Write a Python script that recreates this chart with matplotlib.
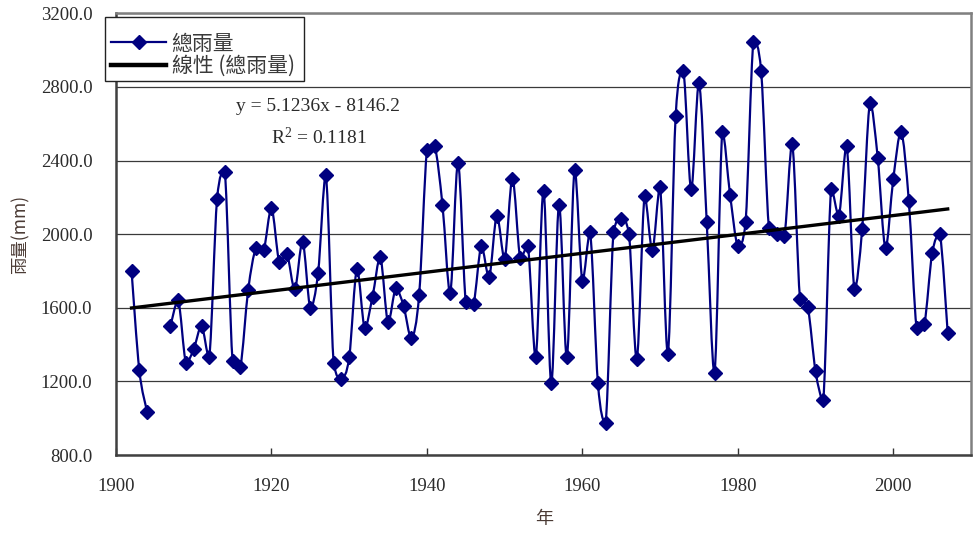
import matplotlib
matplotlib.use("Agg")
import matplotlib.pyplot as plt
import numpy as np
from matplotlib.path import Path
from matplotlib.patches import PathPatch, Rectangle
from matplotlib.lines import Line2D

# ---------------- data ----------------
years = list(range(1902, 2008))
rainfall = [
    1800, 1260, 1035, None, None, 1500, 1640, 1300, 1375, 1500,   # 1902-1911
    1330, 2190, 2340, 1310, 1280, 1695, 1925, 1915, 2140, 1850,   # 1912-1921
    1890, 1700, 1960, 1600, 1790, 2320, 1300, 1215, 1330, 1810,   # 1922-1931
    1490, 1660, 1875, 1520, 1705, 1610, 1435, 1670, 2455, 2480,   # 1932-1941
    2160, 1680, 2385, 1630, 1620, 1935, 1765, 2100, 1865, 2300,   # 1942-1951
    1870, 1935, 1330, 2235, 1190, 2160, 1330, 2350, 1745, 2010,   # 1952-1961
    1190, 975, 2010, 2085, 2000, 1320, 2205, 1915, 2255, 1350,    # 1962-1971
    2640, 2885, 2245, 2820, 2065, 1245, 2555, 2215, 1935, 2065,   # 1972-1981
    3045, 2885, 2035, 2000, 1990, 2490, 1650, 1605, 1255, 1100,   # 1982-1991
    2245, 2100, 2480, 1700, 2030, 2715, 2415, 1925, 2300, 2555,   # 1992-2001
    2180, 1490, 1510, 1895, 2000, 1465,                           # 2002-2007
]
trend_slope = 5.1236
trend_intercept = -8146.2
r_squared = 0.1181
series_label = "總雨量"
trend_label = "線性 (總雨量)"
x_ticks = [1900, 1920, 1940, 1960, 1980, 2000]
y_ticks = [800, 1200, 1600, 2000, 2400, 2800, 3200]
x_label = "年"
y_label = "雨量(mm)"

# ---------------- styling ----------------
plt.rcParams['mathtext.fontset'] = 'custom'
plt.rcParams['mathtext.rm'] = 'Liberation Serif'
plt.rcParams['mathtext.it'] = 'Liberation Serif:italic'

W, H = 976, 534
fig = plt.figure(figsize=(W / 100, H / 100), dpi=100)
ax = fig.add_axes([116 / W, 1 - 455 / H, (971 - 116) / W, (455 - 13.3) / H])

navy = '#000080'
text_col = '#2b2b2b'
serif = ['Liberation Serif', 'DejaVu Serif']
cjk = ['Noto Sans CJK TC', 'DejaVu Sans']

yrs = np.array(years, dtype=float)
vals = np.array([np.nan if v is None else v for v in rainfall], dtype=float)

# smoothed (Excel-style) line, drawn as Bezier segments through the data points
def smooth_path(xs, ys):
    pts = np.column_stack([xs, ys])
    n = len(pts)
    verts = [tuple(pts[0])]
    codes = [Path.MOVETO]
    for i in range(n - 1):
        p0 = pts[max(i - 1, 0)]
        p1 = pts[i]
        p2 = pts[i + 1]
        p3 = pts[min(i + 2, n - 1)]
        c1 = p1 + (p2 - p0) / 6.0
        c2 = p2 - (p3 - p1) / 6.0
        lo, hi = min(p1[1], p2[1]), max(p1[1], p2[1])
        c1[1] = min(max(c1[1], lo), hi)
        c2[1] = min(max(c2[1], lo), hi)
        verts += [tuple(c1), tuple(c2), tuple(p2)]
        codes += [Path.CURVE4] * 3
    return Path(verts, codes)

valid = ~np.isnan(vals)
runs = []
cur = []
for i in range(len(yrs)):
    if valid[i]:
        cur.append(i)
    else:
        if cur:
            runs.append(cur)
        cur = []
if cur:
    runs.append(cur)
for r in runs:
    if len(r) > 1:
        p = smooth_path(yrs[r], vals[r])
        ax.add_patch(PathPatch(p, facecolor='none', edgecolor=navy, lw=1.6, zorder=3))

ax.plot(yrs[valid], vals[valid], linestyle='none', marker='D', ms=7,
        color=navy, mec=navy, zorder=4)

# linear trend
tx = np.array([yrs[valid].min(), yrs[valid].max()])
ax.plot(tx, trend_slope * tx + trend_intercept, color='black', lw=2.4, zorder=5)

# axes
ax.set_xlim(1900, 2010)
ax.set_ylim(800, 3200)
ax.set_xticks(x_ticks)
ax.set_yticks(y_ticks)
ax.set_yticklabels([f"{v:.1f}" for v in y_ticks])
ax.tick_params(axis='x', direction='in', length=5, width=1, color='#333333',
               pad=16.5, labelsize=13.5, labelcolor=text_col)
ax.tick_params(axis='y', length=0, pad=17, labelsize=13.5, labelcolor=text_col)
for lab in ax.get_xticklabels() + ax.get_yticklabels():
    lab.set_family(serif)
ax.yaxis.grid(True, color='#3a3a3a', lw=0.9, zorder=0)
ax.set_axisbelow(True)
for s in ['top', 'right']:
    ax.spines[s].set_color('#808080')
    ax.spines[s].set_linewidth(1.8)
for s in ['left', 'bottom']:
    ax.spines[s].set_color('#404040')
    ax.spines[s].set_linewidth(1.8)

# equation text
ax.text(318 / W, 1 - 107 / H, f"y = {trend_slope:.4f}x - {abs(trend_intercept):.1f}",
        transform=fig.transFigure, ha='center', va='center', fontsize=14,
        family=serif, color=text_col)
ax.text(319 / W, 1 - 137 / H, f"R$^{{2}}$ = {r_squared:.4f}",
        transform=fig.transFigure, ha='center', va='center', fontsize=14,
        family=serif, color=text_col)

# axis labels
fig.text(20 / W, 1 - 234 / H, y_label, rotation=90, ha='center', va='center',
         fontsize=12.5, family=cjk, color='#4a3a34')
fig.text(544 / W, 1 - 519 / H, x_label, ha='center', va='center',
         fontsize=13, family=cjk, color='#4a3a34')

# legend (frame drawn separately)
ax.add_patch(Rectangle((105 / W, 1 - 81 / H), (304 - 105) / W, (81 - 17) / H,
                       transform=fig.transFigure, facecolor='white', clip_on=False,
                       edgecolor='#222222', lw=1.0, zorder=6))
handles = [
    Line2D([], [], color=navy, lw=1.6, marker='D', ms=7, mec=navy),
    Line2D([], [], color='black', lw=3.2),
]
leg = ax.legend(handles, [series_label, trend_label], loc='upper left',
                bbox_to_anchor=(105 / W, 1 - 26.5 / H), bbox_transform=fig.transFigure,
                borderaxespad=0, prop={'family': cjk, 'size': 15},
                handlelength=2.65, handletextpad=0.25, borderpad=0.3,
                labelspacing=0.02, frameon=False)
leg.set_zorder(7)
for t in leg.get_texts():
    t.set_color('#3a3a3a')

fig.savefig('out.png', dpi=100)
